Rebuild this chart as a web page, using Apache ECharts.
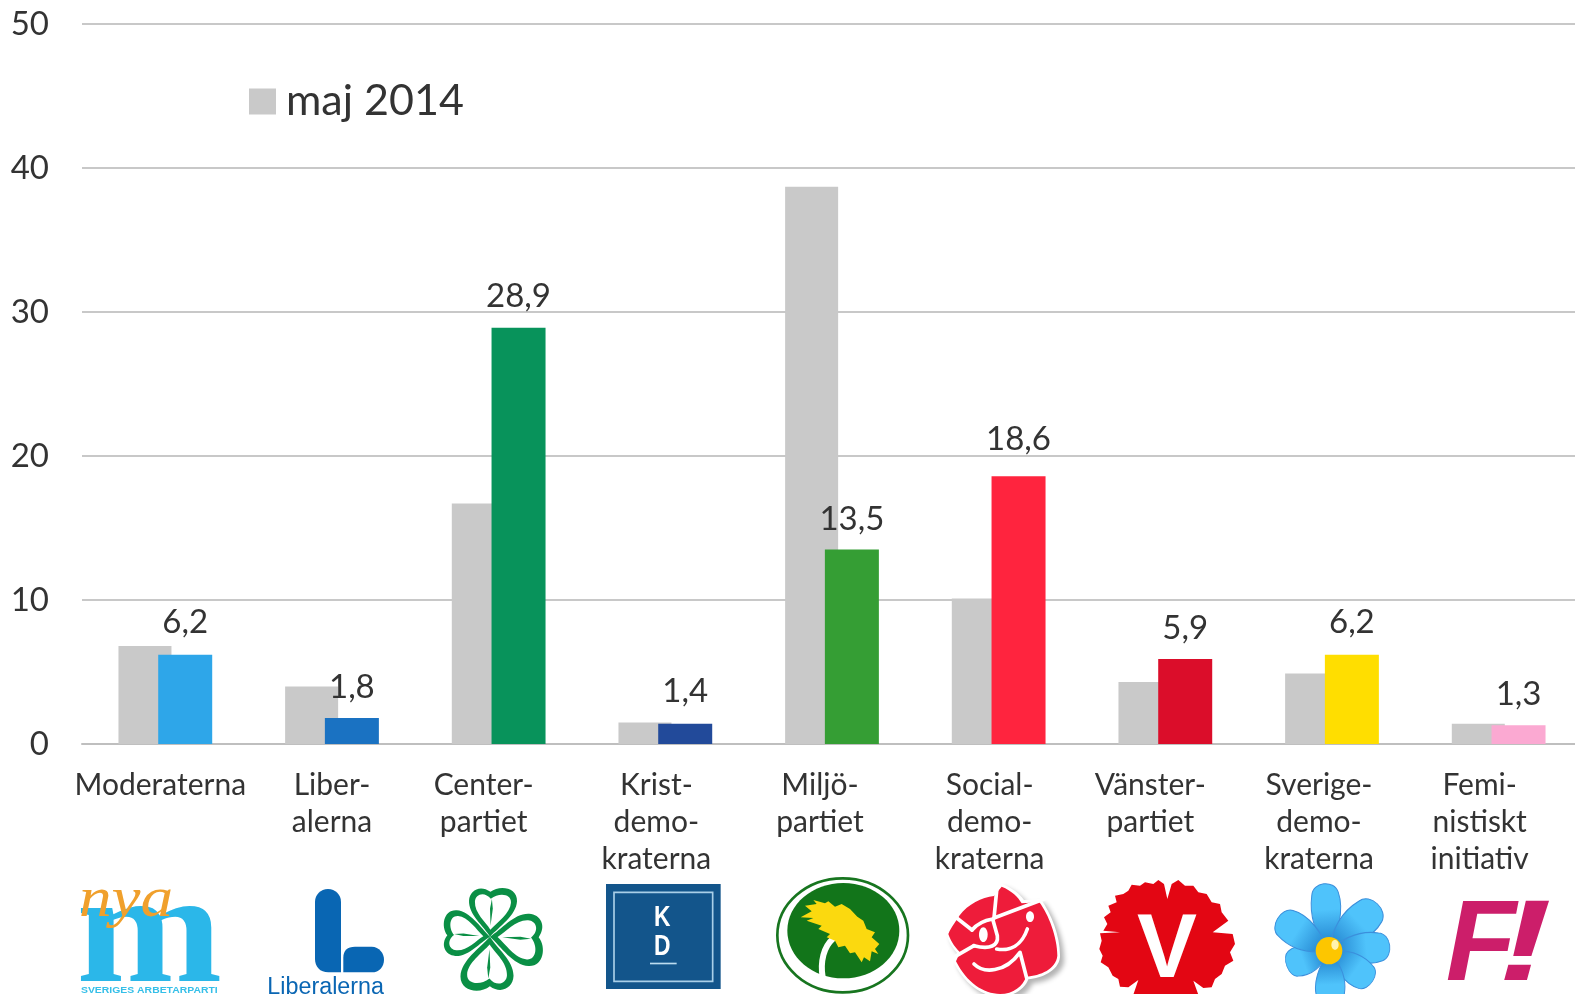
<!DOCTYPE html>
<html>
<head>
<meta charset="utf-8">
<title>maj 2014</title>
<style>
html, body { margin: 0; padding: 0; background: #fff; overflow: hidden; }
#chart { width: 1575px; height: 994px; }
</style>
<script src="https://cdn.jsdelivr.net/npm/echarts@6/dist/echarts.min.js"></script>
</head>
<body>
<div id="chart"></div>
<script>
var parties = ['Moderaterna', 'Liber-\nalerna', 'Center-\npartiet', 'Krist-\ndemo-\nkraterna', 'Miljö-\npartiet', 'Social-\ndemo-\nkraterna', 'Vänster-\npartiet', 'Sverige-\ndemo-\nkraterna', 'Femi-\nnistiskt\ninitiativ'];
var may2014 = [6.8, 4.0, 16.7, 1.5, 38.7, 10.1, 4.3, 4.9, 1.4];
var latest = [6.2, 1.8, 28.9, 1.4, 13.5, 18.6, 5.9, 6.2, 1.3];
var partyColors = ['#2ea6e9', '#1a72c2', '#08935b', '#224a9a', '#359e34', '#ff243e', '#db0d2a', '#ffde00', '#fba9d2'];
var yTicks = [0, 50, 10];

// the names in the picture sit a bit left of their bars
var labelShift = [5, 0, 15, 9, 12, 9, 15, 13, 19];
// a few value labels sit higher or lower than the rest
var labelLift = [1, -1, 0, 1, -1, 5, -1, 1, -1];

var FONT = 'Lato';
var chart = echarts.init(document.getElementById('chart'));

var richLabels = {};
labelShift.forEach(function (s, i) {
    richLabels['s' + i] = { padding: [0, s * 2, 0, 0], fontSize: 30, lineHeight: 37, fontFamily: FONT, color: '#333' };
});

function tx(text, x, y, size, color, extra) {
    var st = {
        text: text, x: x, y: y, fontSize: size, fontFamily: 'Liberation Sans', fill: color,
        align: 'center', verticalAlign: 'middle', textAlign: 'center', textVerticalAlign: 'middle'
    };
    for (var k in extra) st[k] = extra[k];
    return { type: 'text', style: st };
}

function path(d, fill, extra) {
    var st = { fill: fill };
    for (var k in extra) st[k] = extra[k];
    return { type: 'path', shape: { pathData: d }, style: st };
}

function line(d, color, w) {
    return path(d, 'none', { stroke: color, lineWidth: w, lineCap: 'round', lineJoin: 'round' });
}

// stretches one text sideways around x
function wide(x, y, sx, sy, child) {
    return { type: 'group', x: x, y: y, scaleX: sx, scaleY: sy, children: [child] };
}

// each logo is drawn in crop coordinates, 3x the page
function logo(x, y, children) {
    return { type: 'group', x: x, y: y, scaleX: 1 / 3, scaleY: 1 / 3, children: children };
}

function cloverLeaf(x, y, angle, size) {
    return {
        type: 'group', x: x, y: y, rotation: angle, scaleX: size, scaleY: size,
        children: [
            path('M0 0C-20 -30 -65 -60 -65 -100C-65 -130 -35 -148 -5 -128C20 -150 72 -145 72 -105C72 -65 25 -30 0 0Z', '#0a8f45'),
            path('M0 -20C-15 -42 -48 -65 -48 -98C-48 -120 -22 -130 -3 -108C20 -128 55 -125 55 -100C55 -70 18 -42 0 -20Z', '#fff'),
            path('M0 -32L4 -80L0 -108L-4 -80Z', '#0a8f45')
        ]
    };
}

function petal(angle, sx, sy) {
    return {
        type: 'group', x: 717, y: 232, rotation: -angle * Math.PI / 180, scaleX: sx, scaleY: sy,
        children: [
            path('M0 0C-35 -50 -52 -110 -40 -170C-35 -212 30 -215 40 -175C55 -120 30 -50 0 0Z',
                new echarts.graphic.LinearGradient(0, -20, 0, -125, [
                    { offset: 0, color: '#2384cf' }, { offset: 1, color: '#4fc3fb' }
                ], true),
                { stroke: '#3b8fdc', lineWidth: 3 })
        ]
    };
}

var logos = [
    logo(70, 874, [
        wide(238, 437, 1.12, 1.02, tx('m', 0, 0, 470, '#2bb7e9', { fontFamily: 'Liberation Serif', fontWeight: 'bold', verticalAlign: 'bottom', textVerticalAlign: 'bottom' })),
        wide(168, 82, 1.15, 1, tx('nya', 0, 0, 170, '#f0a02c', { fontFamily: 'Liberation Serif', fontStyle: 'italic' })),
        wide(238, 350, 1.25, 1, tx('SVERIGES ARBETARPARTI', 0, 0, 25, '#35bfe8', { fontWeight: 'bold' }))
    ]),
    logo(260, 874, [
        path('M165 84C165 62 182 45 204 45C226 45 243 62 243 84L243 295L205 295C180 295 165 278 165 255Z', '#0966b3'),
        path('M250 295L250 250C250 230 262 218 285 218L335 218C358 218 372 238 372 257C372 278 358 295 335 295Z', '#0966b3'),
        tx('Liberalerna', 197, 340, 70, '#0a66b3')
    ]),
    logo(260, 874, [
        cloverLeaf(690, 188, -0.05, 1.05),
        cloverLeaf(690, 188, -1.62, 1.14),
        cloverLeaf(690, 188, 3.1, 1.16),
        cloverLeaf(690, 188, 1.5, 1)
    ]),
    logo(600, 874, [
        { type: 'rect', shape: { x: 18, y: 30, width: 344, height: 315 }, style: { fill: '#13558b' } },
        { type: 'rect', shape: { x: 42, y: 55, width: 296, height: 267 }, style: { fill: 'none', stroke: '#a9cfe8', lineWidth: 5 } },
        wide(187, 132, 0.78, 1, tx('K', 0, 0, 88, '#fff', { fontWeight: 'bold' })),
        wide(187, 220, 0.78, 1, tx('D', 0, 0, 88, '#fff', { fontWeight: 'bold' })),
        { type: 'rect', shape: { x: 150, y: 266, width: 80, height: 5 }, style: { fill: '#bcdcf0' } }
    ]),
    logo(770, 874, [
        { type: 'ellipse', shape: { cx: 218, cy: 184, rx: 196, ry: 171 }, style: { fill: '#fff', stroke: '#17751f', lineWidth: 8 } },
        { type: 'ellipse', shape: { cx: 220, cy: 170, rx: 168, ry: 143 }, style: { fill: '#12751a' } },
        line('M158 310C150 262 162 218 188 195', '#fff', 18),
        path('M92 130L125 112L105 95L140 90L130 78L165 88L175 82L195 98L215 90L240 105L262 128L280 140L290 165L315 175L305 190L328 210L315 225L325 240L305 232L300 262L282 250L275 265L255 235L240 238L225 215L205 220L195 200L170 190L180 180L145 165L155 155L110 140L130 132Z', '#fbd90f')
    ]),
    logo(770, 874, [
        path('M530 180C540 150 555 135 565 118C595 85 635 62 672 58L690 28C730 42 750 62 762 78L812 75C845 120 872 190 870 250C865 292 815 312 775 316C765 345 730 368 690 368C635 368 582 330 550 262L562 238C545 218 533 198 530 180Z', '#fff',
            { shadowBlur: 5, shadowColor: 'rgba(0,0,0,0.3)', shadowOffsetX: 4, shadowOffsetY: 4 }),
        path('M535 180C545 155 560 140 568 125C595 90 635 70 672 66L695 38C725 50 745 70 755 88L808 85C835 120 862 190 862 245C858 285 812 305 768 308C760 335 730 360 690 360C640 360 590 325 558 262L570 235C550 215 540 195 535 180Z', '#ee1c3a'),
        line('M545 120L606 168', '#fff', 11),
        line('M682 30L672 132', '#fff', 11),
        line('M672 132L830 72', '#fff', 11),
        line('M530 262L612 215', '#fff', 11),
        line('M606 168C625 145 650 138 668 135L682 185C686 215 660 228 612 215', '#fff', 11),
        line('M680 225C720 232 755 215 772 165', '#fff', 11),
        line('M612 270C640 298 705 298 750 235L770 312', '#fff', 11),
        { type: 'ellipse', shape: { cx: 640, cy: 182, rx: 13, ry: 22 }, style: { fill: '#fff' } },
        { type: 'ellipse', shape: { cx: 780, cy: 128, rx: 12, ry: 16 }, style: { fill: '#fff' } }
    ]),
    logo(1090, 874, [
        path('M232 75L222 30L205 18L190 30L165 25L150 35L125 32L115 50L100 60L75 65L80 85L55 95L62 115L42 130L52 150L40 170L90 175L30 178L35 200L28 225L38 245L32 265L55 280L68 305L85 315L90 338L115 340L145 318L130 362L325 362L310 320L340 342L365 340L375 315L395 300L405 275L430 260L420 235L435 210L428 180L368 175L415 140L395 115L390 90L365 85L350 60L325 55L310 35L285 35L265 18L245 30Z', '#e30613'),
        tx('V', 231, 235, 270, '#fff', { fontWeight: 'bold' })
    ]),
    logo(1090, 874, [
        petal(-4, 1, 1),
        petal(46, 1.15, 1),
        petal(85, 1.05, 0.9),
        petal(125, 1, 0.78),
        petal(178, 1, 0.8),
        petal(-109, 1, 0.66),
        petal(-57, 1.1, 0.9),
        { type: 'ellipse', shape: { cx: 717, cy: 230, rx: 40, ry: 41 }, style: { fill: '#fdc600' } },
        { type: 'ellipse', shape: { cx: 735, cy: 212, rx: 11, ry: 15 }, style: { fill: '#fff3b0' } }
    ]),
    logo(1430, 874, [
        tx('F', 153, 223, 346, '#cc1e6a', { fontWeight: 'bold', fontStyle: 'italic' }),
        wide(285, 223, 1.4, 1, tx('!', 0, 0, 346, '#cc1e6a', { fontWeight: 'bold', fontStyle: 'italic' }))
    ])
];

var option = {
    animation: false,
    backgroundColor: '#fff',
    textStyle: { fontFamily: FONT },
    legend: {
        data: ['maj 2014'],
        left: 249,
        top: 80,
        padding: 0,
        icon: 'rect',
        itemWidth: 27,
        itemHeight: 26,
        itemGap: 11,
        textStyle: { fontSize: 43, color: '#333', fontFamily: FONT, padding: [0, 0, 0, 5] }
    },
    grid: { left: 82, top: 24, width: 1500, height: 720, outerBoundsMode: 'none' },
    xAxis: {
        type: 'category',
        data: parties,
        axisTick: { show: false },
        axisLine: { lineStyle: { color: '#bfbfbf', width: 2 } },
        axisLabel: {
            interval: 0,
            margin: 23,
            rich: richLabels,
            formatter: function (value, i) {
                return value.split('\n').map(function (t) { return '{s' + i + '|' + t + '}'; }).join('\n');
            }
        }
    },
    yAxis: {
        type: 'value',
        min: yTicks[0],
        max: yTicks[1],
        interval: yTicks[2],
        axisLine: { show: false },
        axisTick: { show: false },
        axisLabel: { fontSize: 33, color: '#333', margin: 33, fontFamily: FONT },
        splitLine: { lineStyle: { color: '#c8c8c8', width: 2 } }
    },
    series: [
        {
            name: 'maj 2014',
            type: 'bar',
            data: may2014,
            barWidth: 53,
            barGap: '-25%',
            itemStyle: { color: '#c9c9c9' }
        },
        {
            name: 'Opinion',
            type: 'bar',
            barWidth: 54,
            data: latest.map(function (v, i) {
                return {
                    value: v,
                    itemStyle: { color: partyColors[i] },
                    label: { offset: [0, -labelLift[i]] }
                };
            }),
            label: {
                show: true,
                position: 'top',
                distance: 15,
                fontSize: 33,
                color: '#333',
                fontFamily: FONT,
                formatter: function (p) { return String(p.value).replace('.', ','); }
            }
        },
        {
            name: 'logos',
            type: 'custom',
            coordinateSystem: 'none',
            silent: true,
            data: logos.map(function (l, i) { return [i]; }),
            renderItem: function (params) { return logos[params.dataIndex]; }
        }
    ]
};

chart.setOption(option);
</script>
</body>
</html>
